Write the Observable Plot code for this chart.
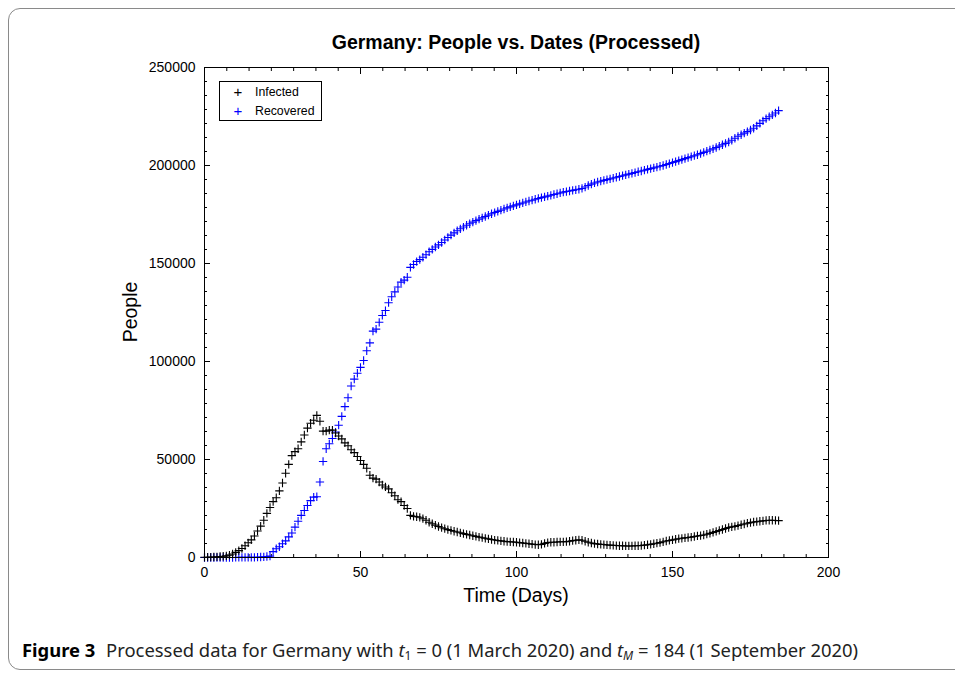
<!DOCTYPE html>
<html><head><meta charset="utf-8">
<script src="https://cdn.jsdelivr.net/npm/d3@7"></script>
<script src="https://cdn.jsdelivr.net/npm/@observablehq/plot@0.6"></script>
<style>
html,body{margin:0;padding:0;background:#fff}
body{width:955px;height:674px;overflow:hidden;position:relative;font-family:"Liberation Sans",Arial,sans-serif}
#frame{position:absolute;left:8px;top:8px;width:1000px;height:662px;border:1px solid #8a8a8a;border-radius:12px;box-sizing:border-box}
#chart{position:absolute;left:0;top:0}
.ov{position:absolute;white-space:nowrap;color:#000}
#title{left:204px;width:624px;top:31px;text-align:center;font-weight:bold;font-size:19.5px}
#xlab{left:204px;width:624px;top:584px;text-align:center;font-size:19.5px}
#ylab{left:130px;top:312px;font-size:19.5px;transform:translate(-50%,-50%) rotate(-90deg)}
#legend{left:219px;top:81px;width:103px;height:40px;border:1px solid #000;background:#fff;box-sizing:border-box;font-size:12.3px}
#legend .row{position:absolute;left:0;height:16px;line-height:16px}
#legend .sym{position:absolute;left:11px;width:14px;text-align:center;font-size:15px;font-weight:300}
#legend .lab{position:absolute;left:35px}
#caption{left:22px;top:637px;font-family:"Noto Sans",sans-serif;font-size:18.4px;color:#222}
#caption b{font-weight:bold;color:#000;margin-right:6px}
#caption sub{font-size:12px;vertical-align:-3px;line-height:0}
</style></head>
<body>
<div id="frame"></div>
<div id="chart"></div>
<div class="ov" id="title">Germany: People vs. Dates (Processed)</div>
<div class="ov" id="xlab">Time (Days)</div>
<div class="ov" id="ylab">People</div>
<div class="ov" id="legend">
  <div class="row" style="top:2px"><span class="sym" style="color:#000">+</span><span class="lab">Infected</span></div>
  <div class="row" style="top:21px"><span class="sym" style="color:#0000ff">+</span><span class="lab">Recovered</span></div>
</div>
<div class="ov" id="caption"><b>Figure 3</b> Processed data for Germany with <i>t</i><sub>1</sub> = 0 (1 March 2020) and <i>t</i><sub><i>M</i></sub> = 184 (1 September 2020)</div>
<script>
const days = d3.range(0, 185);
const infected = [
100,150,180,250,350,500,650,850,1200,1800,
2600,3500,4600,6000,7500,9000,11000,13500,16000,19000,
22500,25500,28500,30500,34000,38000,43000,47500,52000,54000,
55500,59000,62500,66000,68500,70000,72500,69500,64500,64500,
65000,65000,63500,62000,60500,58500,57000,55000,53500,51500,
49500,47500,45500,42000,40500,40000,38500,37000,36000,35000,
33000,31500,29500,28500,26500,25000,21500,21000,20800,20500,
19800,19000,18000,17200,16500,15800,15200,14700,14200,13800,
13400,13000,12600,12200,11800,11500,11100,10800,10400,10100,
9800,9500,9200,8900,8700,8500,8300,8100,8000,7900,
7800,7600,7400,7200,7000,6800,6600,6500,6700,7200,
7600,7800,7800,7900,8000,8000,8100,8300,8600,8800,
9000,8800,8300,7800,7400,7100,6900,6700,6600,6400,
6300,6200,6100,6000,6000,5900,5900,5900,6000,6000,
6100,6300,6500,6700,7000,7300,7600,8000,8400,8700,
9000,9300,9600,9800,10000,10200,10400,10700,11000,11200,
11500,11900,12300,12800,13300,13800,14300,14800,15300,15600,
15900,16300,16700,17100,17500,17800,18100,18300,18500,18700,
18900,19000,19000,18900,18800];
const recovered = [
16,16,16,16,16,16,16,16,18,18,
25,46,46,46,46,46,100,150,250,350,
500,700,3000,4500,5500,7000,8500,10500,12500,15500,
18500,21500,24000,26500,29000,30800,31000,38500,49000,55500,
58000,60700,64000,67500,72000,77000,81500,87500,91000,94000,
97000,100500,105500,109500,115500,116500,120000,123500,126000,130000,
133000,135500,138000,140500,141500,143000,148000,149500,151000,152000,
153200,154500,156000,157200,158400,159500,160700,162000,163300,164500,
165600,166700,167700,168600,169500,170300,171100,171900,172600,173300,
174000,174700,175400,176000,176600,177200,177800,178400,178900,179400,
179900,180400,180900,181400,181900,182300,182800,183200,183600,184000,
184400,184800,185200,185600,186000,186400,186700,187000,187300,187600,
187900,188300,189000,189800,190500,191100,191600,192000,192400,192800,
193200,193600,194000,194400,194800,195200,195600,196000,196400,196800,
197200,197600,198000,198400,198800,199200,199600,200000,200500,201000,
201500,202000,202500,203000,203500,204000,204500,205000,205500,206100,
206700,207300,207900,208500,209200,209900,210600,211300,212000,212900,
213900,214900,215700,216500,217300,218100,219000,220200,221500,222800,
223900,224900,225800,226800,228000];
const xTicks = [0, 50, 100, 150, 200];
const yTicks = [0, 50000, 100000, 150000, 200000, 250000];
const minorPerMajor = 7;
const minorOf = (ticks) => ticks.slice(1).flatMap((t, i) => d3.range(1, minorPerMajor).map(k => ticks[i] + (t - ticks[i]) * k / minorPerMajor));
const xMinor = minorOf(xTicks);
const yMinor = minorOf(yTicks);

const inf = days.map((d, i) => ({day: d, v: infected[i]}));
const rec = days.map((d, i) => ({day: d, v: recovered[i]}));
const fmt = d3.format("d");
const blank = () => "";

const chart = Plot.plot({
  width: 955, height: 674,
  marginLeft: 204, marginRight: 127, marginTop: 67, marginBottom: 117,
  style: {fontFamily: "Liberation Sans, Arial, sans-serif", background: "transparent", color: "#000"},
  x: {domain: [0, 200]},
  y: {domain: [0, 250000]},
  marks: [
    Plot.axisX({anchor: "bottom", ticks: xTicks, tickSize: -6, tickPadding: 16, tickFormat: fmt, fontSize: 14, label: null}),
    Plot.axisX({anchor: "top", ticks: xTicks, tickSize: -6, tickFormat: blank, label: null}),
    Plot.axisX({anchor: "bottom", ticks: xMinor, tickSize: -3, tickFormat: blank, label: null}),
    Plot.axisX({anchor: "top", ticks: xMinor, tickSize: -3, tickFormat: blank, label: null}),
    Plot.axisY({anchor: "left", ticks: yTicks, tickSize: -6, tickPadding: 15, tickFormat: fmt, fontSize: 14, label: null}),
    Plot.axisY({anchor: "right", ticks: yTicks, tickSize: -6, tickFormat: blank, label: null}),
    Plot.axisY({anchor: "left", ticks: yMinor, tickSize: -3, tickFormat: blank, label: null}),
    Plot.axisY({anchor: "right", ticks: yMinor, tickSize: -3, tickFormat: blank, label: null}),
    Plot.dot(rec, {x: "day", y: "v", symbol: "plus", r: 2.8, stroke: "#0000ff", strokeWidth: 1.1}),
    Plot.dot(inf, {x: "day", y: "v", symbol: "plus", r: 2.8, stroke: "#000", strokeWidth: 1.1}),
    Plot.frame({stroke: "#000", strokeWidth: 1})
  ]
});
document.getElementById("chart").appendChild(chart);
</script>
</body></html>
